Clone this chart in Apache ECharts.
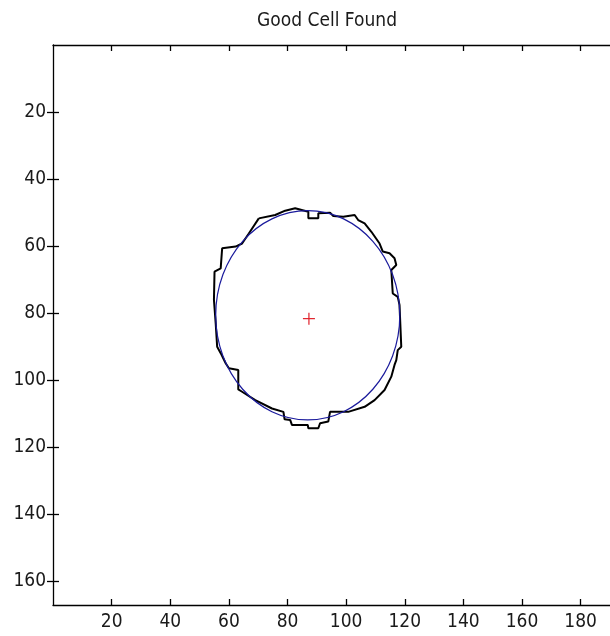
<!DOCTYPE html>
<html>
<head>
<meta charset="utf-8">
<title>Good Cell Found</title>
<script src="https://cdn.jsdelivr.net/npm/echarts@6/dist/echarts.min.js"></script>
<style>
  html, body { margin: 0; padding: 0; background: #fff; }
  #chart { width: 610px; height: 636px; }
</style>
</head>
<body>
<div id="chart"></div>
<script>
// Axis tick positions (image pixel coordinates)
const xTicks = [20, 40, 60, 80, 100, 120, 140, 160, 180];
const yTicks = [20, 40, 60, 80, 100, 120, 140, 160];
const xLimits = [0, 190];
const yLimits = [0, 167];

// Traced cell boundary, [column, row], clockwise from the upper left
const boundary = [
  [70.2, 51.7], [75.8, 50.7], [79.2, 49.4], [82.6, 48.7], [87.1, 49.7],
  [87.1, 51.7], [90.5, 51.7], [90.5, 50.2], [94.5, 50.0], [95.6, 51.0],
  [99.0, 51.2], [99.5, 50.7], [102.9, 50.7], [104.1, 52.2], [106.3, 53.2],
  [108.6, 55.7], [111.4, 59.2], [112.5, 61.6], [114.8, 62.1], [116.5, 63.6],
  [117.1, 65.6], [115.4, 67.1], [115.9, 74.1], [117.6, 75.1], [118.2, 77.5],
  [118.8, 90.0], [117.6, 91.0], [117.1, 94.0], [116.5, 95.4], [115.4, 98.9],
  [113.1, 102.9], [109.7, 105.9], [106.3, 107.9], [100.7, 109.4], [94.5, 109.4],
  [93.9, 112.3], [91.1, 112.8], [90.5, 114.3], [87.1, 114.3], [86.9, 113.3],
  [81.5, 113.3], [80.9, 111.8], [79.0, 111.6], [78.6, 109.4], [74.7, 108.4],
  [69.0, 105.9], [64.5, 103.4], [63.2, 102.7], [63.2, 96.9], [60.0, 96.4],
  [58.9, 94.9], [57.2, 91.9], [56.0, 90.0], [55.5, 83.0], [54.9, 76.0],
  [55.1, 67.6], [57.2, 66.6], [57.7, 60.6], [62.3, 60.1], [64.5, 59.2],
  [66.8, 56.2], [70.2, 51.7]
];

// Fitted ellipse: centre and semi-axes (column, row)
const ellipseCenter = [86.9, 80.6];
const ellipseRadii = [31.4, 31.2];

// Region centroid
const centroid = [87.3, 81.6];

const FONT = '"Liberation Sans Narrow", "DejaVu Sans Condensed", "Liberation Sans", Arial, sans-serif';
const TEXT = '#1a1a1a';

const chart = echarts.init(document.getElementById('chart'), null, { renderer: 'canvas' });

const baseAxis = {
  type: 'value',
  splitLine: { show: false },
  axisLine: { show: true, onZero: false, lineStyle: { color: '#000', width: 1.3 } },
  axisTick: { show: true, inside: true, length: 6, lineStyle: { color: '#000', width: 1.3 } }
};

chart.setOption({
  animation: false,
  backgroundColor: '#fff',
  title: {
    text: 'Good Cell Found',
    left: 322, top: 7,
    textAlign: 'center',
    textStyle: { fontFamily: FONT, fontSize: 19, fontWeight: 'normal', color: TEXT }
  },
  grid: { left: 53, top: 45, width: 561, height: 560, containLabel: false },
  xAxis: [
    Object.assign({}, baseAxis, {
      position: 'bottom', min: xLimits[0], max: xLimits[1],
      axisTick: Object.assign({}, baseAxis.axisTick, { customValues: xTicks }),
      axisLabel: { customValues: xTicks, margin: 8, fontFamily: FONT, fontSize: 19, color: TEXT }
    }),
    Object.assign({}, baseAxis, {
      position: 'top', min: xLimits[0], max: xLimits[1],
      axisTick: Object.assign({}, baseAxis.axisTick, { customValues: xTicks }),
      axisLabel: { show: false }
    })
  ],
  yAxis: [
    Object.assign({}, baseAxis, {
      position: 'left', inverse: true, min: yLimits[0], max: yLimits[1],
      axisTick: Object.assign({}, baseAxis.axisTick, { customValues: yTicks }),
      axisLabel: { customValues: yTicks, margin: 7, fontFamily: FONT, fontSize: 19, color: TEXT }
    }),
    Object.assign({}, baseAxis, {
      position: 'right', inverse: true, min: yLimits[0], max: yLimits[1],
      axisLine: { show: false },
      axisTick: Object.assign({}, baseAxis.axisTick, { customValues: yTicks }),
      axisLabel: { show: false }
    })
  ],
  series: [
    {
      name: 'boundary',
      type: 'line',
      xAxisIndex: 0, yAxisIndex: 0,
      data: boundary,
      showSymbol: false,
      symbol: 'none',
      lineStyle: { color: '#000', width: 2 },
      clip: true,
      z: 2
    },
    {
      name: 'ellipse',
      type: 'custom',
      xAxisIndex: 0, yAxisIndex: 0,
      data: [[ellipseCenter[0], ellipseCenter[1], ellipseRadii[0], ellipseRadii[1]]],
      encode: { x: 0, y: 1 },
      renderItem: function (params, api) {
        const c = api.coord([api.value(0), api.value(1)]);
        const s = api.size([api.value(2), api.value(3)]);
        return {
          type: 'ellipse',
          shape: { cx: c[0], cy: c[1], rx: Math.abs(s[0]), ry: Math.abs(s[1]) },
          style: { fill: null, stroke: '#1a1a9c', lineWidth: 1.2 }
        };
      },
      z: 3
    },
    {
      name: 'centroid',
      type: 'custom',
      xAxisIndex: 0, yAxisIndex: 0,
      data: [centroid],
      encode: { x: 0, y: 1 },
      renderItem: function (params, api) {
        const c = api.coord([api.value(0), api.value(1)]);
        const h = 6;
        const st = { stroke: '#e0202a', lineWidth: 1.2 };
        return {
          type: 'group',
          children: [
            { type: 'line', shape: { x1: c[0] - h, y1: c[1], x2: c[0] + h, y2: c[1] }, style: st },
            { type: 'line', shape: { x1: c[0], y1: c[1] - h, x2: c[0], y2: c[1] + h }, style: st }
          ]
        };
      },
      z: 4
    }
  ]
});
</script>
</body>
</html>
